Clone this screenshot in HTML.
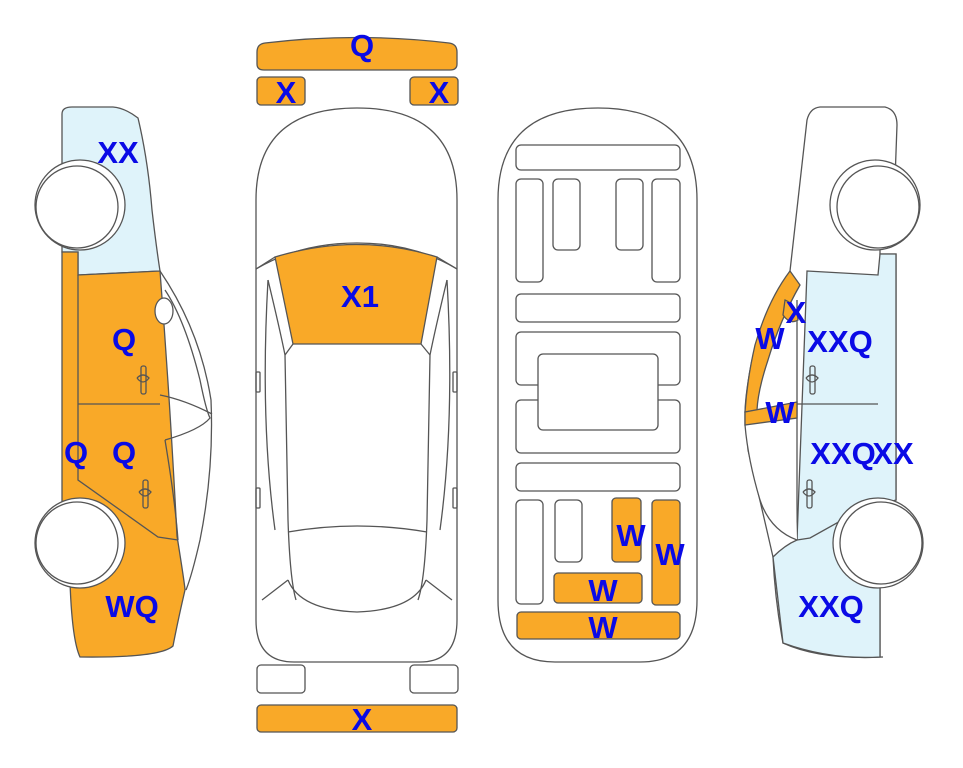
<!DOCTYPE html>
<html><head><meta charset="utf-8"><style>
html,body{margin:0;padding:0;background:#fff;}
svg{display:block}
text{font-family:"Liberation Sans",Arial,sans-serif;font-weight:bold;fill:#0a0ae6;font-size:31px;text-anchor:middle}
</style></head><body>
<svg width="963" height="768" viewBox="0 0 963 768" xmlns="http://www.w3.org/2000/svg">
<g stroke="#555" stroke-width="1.3" fill="none">

<!-- LEFT CAR -->
<path d="M62,114 Q62,107 72,107 L113,107 Q125,108 138,118 Q148,160 152,210 Q156,245 160,271 L78,275 L78,252 L62,252 Z" fill="#dff3fa"/>
<path d="M160,271 Q200,330 211,400 Q214,470 200,540 Q192,575 186,590" fill="#fff"/>
<path d="M62,252 L78,252 L78,275 L160,271 Q170,400 177,536 Q185,586 185,590 Q178,620 173,646 Q160,658 80,657 Q72,640 70,582 L62,580 Z" fill="#f9a928"/>
<path d="M165,290 Q185,320 200,380 Q206,410 210,418 Q200,430 165,440" />
<path d="M160,395 Q185,400 212,414"/>
<path d="M78,404 L160,404"/>
<path d="M78,275 L78,480 L158,537 L178,540"/>
<path d="M95,500 L95,530"/>
<path d="M165,440 Q175,500 178,540"/>
<ellipse cx="164" cy="311" rx="9" ry="13" fill="#fff"/>
<rect x="141" y="366" width="5" height="28" rx="2"/><path d="M137,378 Q143,372 149,378 Q143,386 137,378"/>
<rect x="143" y="480" width="5" height="28" rx="2"/><path d="M139,492 Q145,486 151,492 Q145,500 139,492"/>
<circle cx="80" cy="205" r="45" fill="#fff"/>
<circle cx="77" cy="207" r="41" fill="#fff"/>
<circle cx="80" cy="543" r="45" fill="#fff"/>
<circle cx="77" cy="543" r="41" fill="#fff"/>

<!-- RIGHT CAR -->
<path d="M820,107 L885,107 Q897,110 897,125 L895,180 L880,180 L880,254 L896,254 L896,500 L880,500 L880,657 L883,657 Q820,660 783,643 Q775,600 773,557 Q760,500 748,450 Q745,390 760,340 Q775,300 790,271 Q800,180 807,120 Q810,108 820,107 Z" fill="#fff"/>
<path d="M807,271 L878,275 L880,254 L896,254 L896,500 L880,505 L880,657 Q830,660 783,643 Q778,600 773,557 Q785,545 797,540 Z" fill="#dff3fa"/>
<path d="M797,300 L797,540 L810,538 L878,500"/>
<path d="M797,404 L878,404"/>
<path d="M790,271 Q765,310 752,360 Q745,395 745,415 L745,425 Q748,460 760,500 Q770,530 797,540" fill="#fff"/>
<path d="M790,271 L800,285 Q780,320 768,360 Q758,390 757,410 L745,412 Q747,380 755,345 Q768,300 790,271 Z" fill="#f9a928"/>
<path d="M745,412 L797,402 L797,418 L745,425 Z" fill="#f9a928"/>
<path d="M785,300 Q797,305 798,320 Q790,325 783,315 Z" fill="#f9a928"/>
<rect x="810" y="366" width="5" height="28" rx="2"/><path d="M806,378 Q812,372 818,378 Q812,386 806,378"/>
<rect x="807" y="480" width="5" height="28" rx="2"/><path d="M803,492 Q809,486 815,492 Q809,500 803,492"/>
<circle cx="875" cy="205" r="45" fill="#fff"/>
<circle cx="878" cy="207" r="41" fill="#fff"/>
<circle cx="878" cy="543" r="45" fill="#fff"/>
<circle cx="881" cy="543" r="41" fill="#fff"/>

<!-- TOP VIEW CAR -->
<path d="M257,52 Q257,44 265,43 Q357,32 449,43 Q457,44 457,52 L457,64 Q457,70 450,70 L264,70 Q257,70 257,64 Z" fill="#f9a928"/>
<rect x="257" y="77" width="48" height="28" rx="4" fill="#f9a928"/>
<rect x="410" y="77" width="48" height="28" rx="4" fill="#f9a928"/>
<path d="M256,200 Q256,108 357,108 Q457,108 457,200 L457,620 Q457,662 420,662 L294,662 Q256,662 256,620 Z" fill="#fff"/>
<path d="M256,269 Q300,243 357,243 Q414,243 457,269"/>
<path d="M275,257 Q357,232 437,257 L421,344 L293,344 Z" fill="#f9a928"/>
<path d="M256,269 L275,257 M457,269 L437,257 M293,344 L285,355 M421,344 L430,355"/>
<path d="M268,280 Q280,330 285,355 L288,520 Q290,580 296,600 M447,280 Q435,330 430,355 L427,520 Q425,580 418,600"/>
<path d="M268,280 Q260,420 275,530 M447,280 Q455,420 440,530"/>
<path d="M288,532 Q357,520 427,532"/>
<path d="M288,580 Q300,610 357,612 Q414,610 426,580"/>
<path d="M262,600 L288,580 M452,600 L426,580"/>
<rect x="256" y="372" width="4" height="20" rx="1"/><rect x="453" y="372" width="4" height="20" rx="1"/>
<rect x="256" y="488" width="4" height="20" rx="1"/><rect x="453" y="488" width="4" height="20" rx="1"/>
<rect x="257" y="665" width="48" height="28" rx="4" fill="#fff"/>
<rect x="410" y="665" width="48" height="28" rx="4" fill="#fff"/>
<rect x="257" y="705" width="200" height="27" rx="4" fill="#f9a928"/>

<!-- UNDERSIDE -->
<path d="M498,200 Q498,108 598,108 Q697,108 697,200 L697,600 Q697,662 640,662 L555,662 Q498,662 498,600 Z" fill="#fff"/>
<rect x="516" y="145" width="164" height="25" rx="5"/>
<rect x="516" y="179" width="27" height="103" rx="5"/>
<rect x="553" y="179" width="27" height="71" rx="5"/>
<rect x="616" y="179" width="27" height="71" rx="5"/>
<rect x="652" y="179" width="28" height="103" rx="5"/>
<rect x="516" y="294" width="164" height="28" rx="5"/>
<rect x="516" y="332" width="164" height="53" rx="5"/>
<rect x="516" y="400" width="164" height="53" rx="5"/>
<rect x="538" y="354" width="120" height="76" rx="5" fill="#fff"/>
<rect x="516" y="463" width="164" height="28" rx="5"/>
<rect x="516" y="500" width="27" height="104" rx="5"/>
<rect x="555" y="500" width="27" height="62" rx="5"/>
<rect x="612" y="498" width="29" height="64" rx="4" fill="#f9a928"/>
<rect x="652" y="500" width="28" height="105" rx="4" fill="#f9a928"/>
<rect x="554" y="573" width="88" height="30" rx="4" fill="#f9a928"/>
<rect x="517" y="612" width="163" height="27" rx="4" fill="#f9a928"/>
</g>

<text x="118" y="163">XX</text>
<text x="124" y="350">Q</text>
<text x="76" y="463">Q</text>
<text x="124" y="463">Q</text>
<text x="132" y="617">WQ</text>
<text x="362" y="56">Q</text>
<text x="286" y="103">X</text>
<text x="439" y="103">X</text>
<text x="360" y="307">X1</text>
<text x="362" y="730">X</text>
<text x="631" y="546">W</text>
<text x="670" y="565">W</text>
<text x="603" y="601">W</text>
<text x="603" y="638">W</text>
<text x="796" y="323">X</text>
<text x="770" y="349">W</text>
<text x="840" y="352">XXQ</text>
<text x="780" y="423">W</text>
<text x="843" y="464">XXQ</text>
<text x="893" y="464">XX</text>
<text x="831" y="617">XXQ</text>
</svg>
</body></html>
